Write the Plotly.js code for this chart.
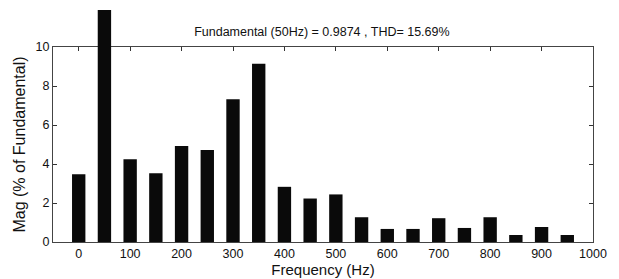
<!DOCTYPE html>
<html><head><meta charset="utf-8">
<script src="https://cdn.plot.ly/plotly-3.0.1.min.js"></script>
<style>html,body{margin:0;padding:0;background:#fff}</style>
</head><body><div id="chart" style="width:619px;height:279px"></div>
<script>
const freqs = [0,50,100,150,200,250,300,350,400,450,500,550,600,650,700,750,800,850,900,950];
const mags = [3.47,11.92,4.25,3.52,4.92,4.72,7.32,9.14,2.83,2.23,2.44,1.27,0.67,0.67,1.22,0.72,1.27,0.36,0.77,0.36];
const xTicks = [0,100,200,300,400,500,600,700,800,900,1000];
const yTicks = [0,2,4,6,8,10];
const titleText = 'Fundamental (50Hz) = 0.9874 , THD= 15.69%';

const font = {family:'Liberation Sans, Arial, sans-serif', color:'#111'};
const H = 279, T = 10, B = 37;
const areaH = H - T - B;              // 232
const frameH = 242 - 47;              // 195 px for 0..10
const dom = frameH / areaH;
Plotly.newPlot('chart', [
 {type:'scatter', x:[], y:[], xaxis:'x', yaxis:'y', hoverinfo:'skip'},
 {
  type:'bar', x:freqs, y:mags, width:26, xaxis:'x', yaxis:'y2',
  marker:{color:'#0a0a0a', line:{width:0}},
  hoverinfo:'skip'
 }], {
  width:619, height:279,
  margin:{l:53, r:26, t:T, b:B},
  paper_bgcolor:'#fff', plot_bgcolor:'rgba(0,0,0,0)',
  showlegend:false,
  font:Object.assign({size:12.5}, font),
  title:{text:titleText, font:Object.assign({size:12.5}, font), x:0.52, xanchor:'center', y:1-32/H, yanchor:'middle'},
  xaxis:{range:[-50,1000], tickvals:xTicks, ticks:'inside', ticklen:4, tickcolor:'#333',
    anchor:'y', showline:true, mirror:'ticks', linecolor:'#444', linewidth:1, showgrid:false, zeroline:false,
    tickfont:Object.assign({size:12.5}, font),
    title:{text:'Frequency (Hz)', font:Object.assign({size:15}, font), standoff:1}},
  yaxis:{domain:[0, dom], range:[0,10], tickvals:yTicks, ticks:'inside', ticklen:4, tickcolor:'#333',
    anchor:'x', showline:true, mirror:'ticks', linecolor:'#444', linewidth:1, showgrid:false, zeroline:false,
    tickfont:Object.assign({size:12.5}, font),
    title:{text:'Mag (% of Fundamental)', font:Object.assign({size:16}, font), standoff:5}},
  yaxis2:{domain:[0,1], range:[0, 10/dom], visible:false, anchor:'x', fixedrange:true}
}, {staticPlot:true, displayModeBar:false});
</script></body></html>
